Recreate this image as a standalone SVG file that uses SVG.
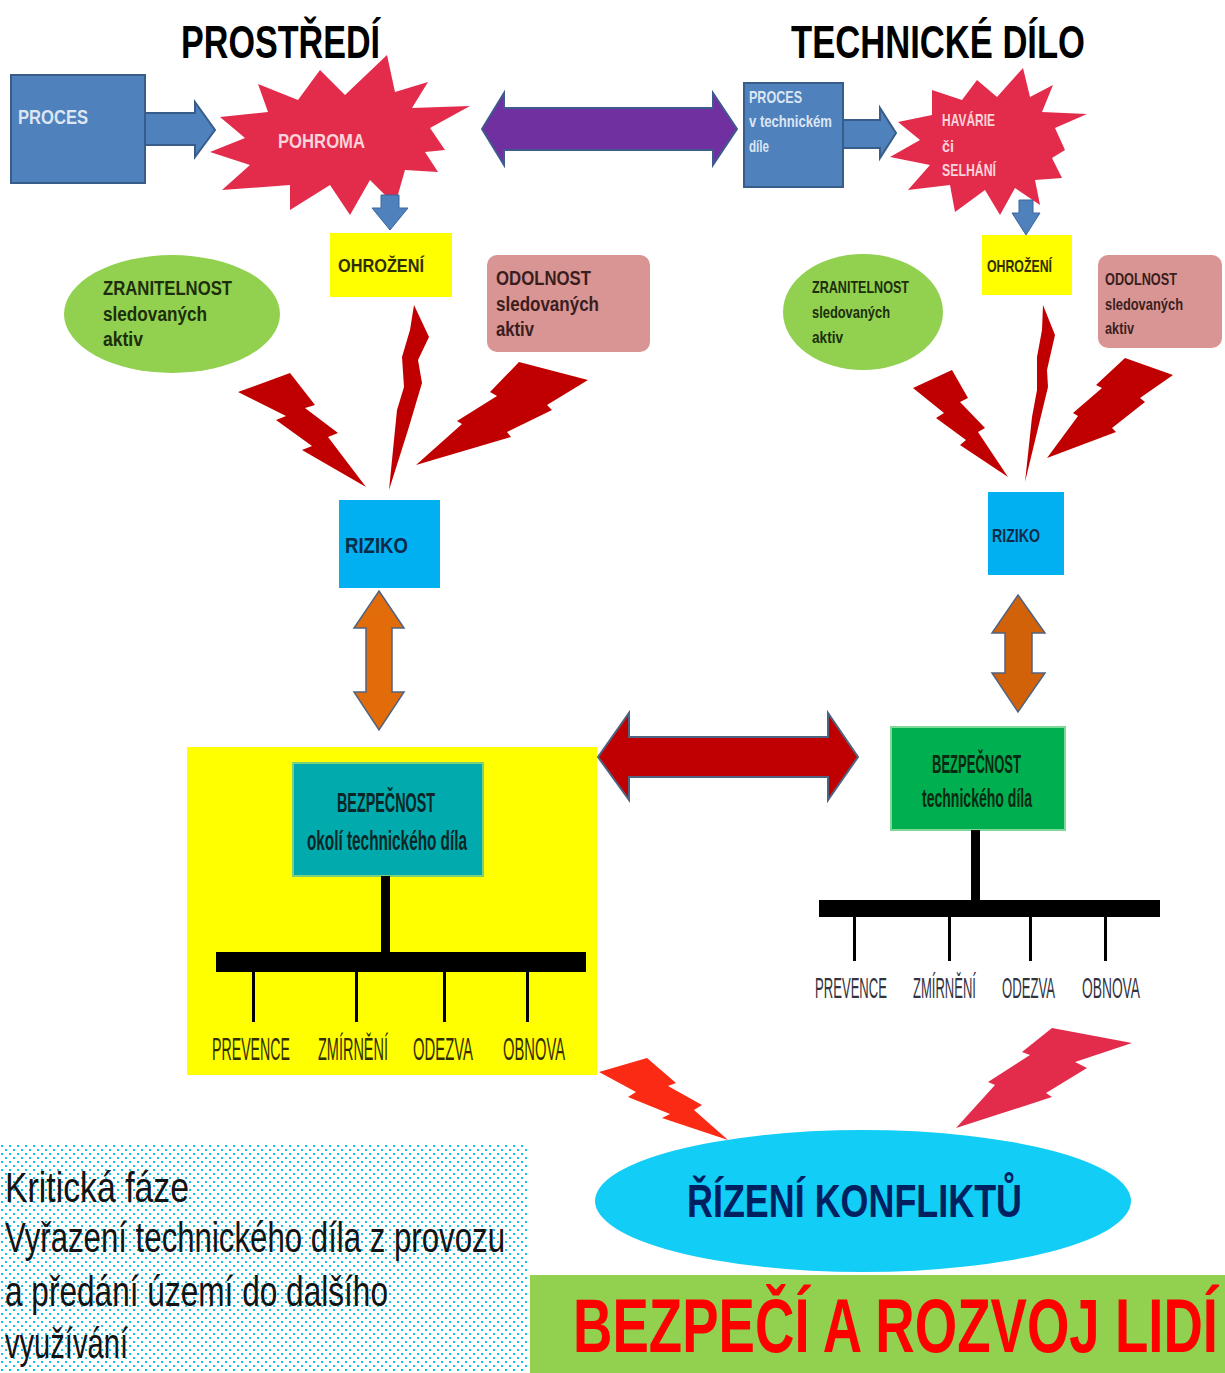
<svg xmlns="http://www.w3.org/2000/svg" width="1225" height="1373" viewBox="0 0 1225 1373">
<defs>
<style>
text{font-family:"Liberation Sans Narrow","Liberation Sans",Arial,sans-serif;}
.b{font-weight:bold;}
.title{font-size:46px;font-weight:bold;fill:#000;}
.proc{fill:#4f81bd;stroke:#385d8a;stroke-width:2;}
.ptxt{fill:#dce6f2;font-weight:bold;}
.burst{fill:#e32b4b;}
.btxt{fill:#fbd3da;font-weight:bold;}
.barr{fill:#4f81bd;stroke:#3a67a0;stroke-width:1;}
.ohr{fill:#ffff00;}
.otxt{fill:#2e2e00;font-weight:bold;}
.zran{fill:#92d050;}
.ztxt{fill:#1c2e0a;font-weight:bold;}
.odol{fill:#d99594;}
.dtxt{fill:#3a1e1e;font-weight:bold;}
.bolt{fill:#c00000;}
.riz{fill:#00b0f0;}
.rtxt{fill:#0c2b48;font-weight:bold;}
.orange{stroke:#4f6380;stroke-width:1.5;}
.tree{fill:#000;}
.lbl{fill:#332e00;}
.lbl2{fill:#33333f;}
</style>
<pattern id="dots" width="8" height="8" patternUnits="userSpaceOnUse">
<rect width="8" height="8" fill="#fff"/>
<rect x="1" y="1" width="2" height="2" fill="#11c4ee"/>
<rect x="5" y="5" width="2" height="2" fill="#11c4ee"/>
</pattern>
</defs>
<rect width="1225" height="1373" fill="#fff"/>

<g id="titles">
<text class="title" x="181" y="58" textLength="199" lengthAdjust="spacingAndGlyphs">PROSTŘEDÍ</text>
<text class="title" x="791" y="58" textLength="294" lengthAdjust="spacingAndGlyphs">TECHNICKÉ DÍLO</text>
</g>

<g id="proces-left">
<rect class="proc" x="11" y="75" width="134" height="108"/>
<text class="ptxt" x="18" y="124" font-size="20" textLength="70" lengthAdjust="spacingAndGlyphs">PROCES</text>
</g>

<g id="pohroma">
<polygon class="burst" points="387,55 395,92 428,82 412,108 470,106 430,128 445,150 425,152 438,172 405,170 395,205 370,180 350,215 330,185 290,210 290,185 222,190 250,165 210,152 245,138 220,117 268,112 258,84 298,100 320,70 345,95"/>
<text class="btxt" x="278" y="148" font-size="20" textLength="87" lengthAdjust="spacingAndGlyphs">POHROMA</text>
</g>

<g id="proces-right">
<rect class="proc" x="744" y="83" width="99" height="104"/>
<text class="ptxt" x="749" y="103" font-size="17" textLength="53" lengthAdjust="spacingAndGlyphs">PROCES</text>
<text class="ptxt" x="749" y="127" font-size="17" textLength="83" lengthAdjust="spacingAndGlyphs">v technickém</text>
<text class="ptxt" x="749" y="152" font-size="17" textLength="20" lengthAdjust="spacingAndGlyphs">díle</text>
</g>

<g id="havarie">
<polygon class="burst" points="1023,68 1030,97 1053,85 1042,112 1087,114 1055,128 1065,150 1052,158 1062,178 1035,180 1040,205 1015,188 1000,215 985,190 955,212 950,185 908,190 930,165 890,157 920,140 898,122 932,115 932,90 962,100 977,80 997,97"/>
<text class="btxt" x="942" y="126" font-size="17" textLength="53" lengthAdjust="spacingAndGlyphs">HAVÁRIE</text>
<text class="btxt" x="942" y="152" font-size="17" textLength="12" lengthAdjust="spacingAndGlyphs">či</text>
<text class="btxt" x="942" y="176" font-size="17" textLength="54" lengthAdjust="spacingAndGlyphs">SELHÁNÍ</text>
</g>

<g id="ohrozeni-left">
<rect class="ohr" x="330" y="233" width="122" height="64"/>
<text class="otxt" x="338" y="272" font-size="19" textLength="86" lengthAdjust="spacingAndGlyphs">OHROŽENÍ</text>
</g>
<g id="ohrozeni-right">
<rect class="ohr" x="982" y="235" width="90" height="60"/>
<text class="otxt" x="987" y="272" font-size="17" textLength="65" lengthAdjust="spacingAndGlyphs">OHROŽENÍ</text>
</g>

<g id="zranitelnost-left">
<ellipse class="zran" cx="172" cy="314" rx="108" ry="59"/>
<text class="ztxt" x="103" y="295" font-size="20" textLength="129" lengthAdjust="spacingAndGlyphs">ZRANITELNOST</text>
<text class="ztxt" x="103" y="321" font-size="20" textLength="104" lengthAdjust="spacingAndGlyphs">sledovaných</text>
<text class="ztxt" x="103" y="346" font-size="20" textLength="40" lengthAdjust="spacingAndGlyphs">aktiv</text>
</g>
<g id="zranitelnost-right">
<ellipse class="zran" cx="863" cy="312" rx="80" ry="58"/>
<text class="ztxt" x="812" y="293" font-size="17" textLength="97" lengthAdjust="spacingAndGlyphs">ZRANITELNOST</text>
<text class="ztxt" x="812" y="318" font-size="17" textLength="78" lengthAdjust="spacingAndGlyphs">sledovaných</text>
<text class="ztxt" x="812" y="343" font-size="17" textLength="31" lengthAdjust="spacingAndGlyphs">aktiv</text>
</g>

<g id="odolnost-left">
<rect class="odol" x="487" y="255" width="163" height="97" rx="10"/>
<text class="dtxt" x="496" y="285" font-size="20" textLength="95" lengthAdjust="spacingAndGlyphs">ODOLNOST</text>
<text class="dtxt" x="496" y="311" font-size="20" textLength="103" lengthAdjust="spacingAndGlyphs">sledovaných</text>
<text class="dtxt" x="496" y="336" font-size="20" textLength="38" lengthAdjust="spacingAndGlyphs">aktiv</text>
</g>
<g id="odolnost-right">
<rect class="odol" x="1098" y="255" width="124" height="93" rx="10"/>
<text class="dtxt" x="1105" y="285" font-size="17" textLength="72" lengthAdjust="spacingAndGlyphs">ODOLNOST</text>
<text class="dtxt" x="1105" y="310" font-size="17" textLength="78" lengthAdjust="spacingAndGlyphs">sledovaných</text>
<text class="dtxt" x="1105" y="334" font-size="17" textLength="29" lengthAdjust="spacingAndGlyphs">aktiv</text>
</g>

<g id="riziko-left">
<rect class="riz" x="339" y="500" width="101" height="88"/>
<text class="rtxt" x="345" y="553" font-size="22" textLength="63" lengthAdjust="spacingAndGlyphs">RIZIKO</text>
</g>
<g id="riziko-right">
<rect class="riz" x="988" y="492" width="76" height="83"/>
<text class="rtxt" x="992" y="542" font-size="18" textLength="48" lengthAdjust="spacingAndGlyphs">RIZIKO</text>
</g>

<g id="bezpecnost-okoli">
<rect x="187" y="747" width="410" height="328" fill="#ffff00"/>
<rect x="293" y="763" width="190" height="113" fill="#00aaad" stroke="#7bd07a" stroke-width="2"/>
<text class="b" x="337" y="812" font-size="27" fill="#0a2626" textLength="98" lengthAdjust="spacingAndGlyphs">BEZPEČNOST</text>
<text class="b" x="307" y="850" font-size="27" fill="#0a2626" textLength="160" lengthAdjust="spacingAndGlyphs">okolí technického díla</text>
<text class="lbl" x="212" y="1060" font-size="32" textLength="78" lengthAdjust="spacingAndGlyphs">PREVENCE</text>
<text class="lbl" x="318" y="1060" font-size="32" textLength="70" lengthAdjust="spacingAndGlyphs">ZMÍRNĚNÍ</text>
<text class="lbl" x="413" y="1060" font-size="32" textLength="60" lengthAdjust="spacingAndGlyphs">ODEZVA</text>
<text class="lbl" x="503" y="1060" font-size="32" textLength="62" lengthAdjust="spacingAndGlyphs">OBNOVA</text>
</g>

<g id="bezpecnost-dila">
<rect x="891" y="727" width="174" height="103" fill="#00b050" stroke="#7ed89a" stroke-width="2"/>
<text class="b" x="932" y="773" font-size="25" fill="#0a2a12" textLength="89" lengthAdjust="spacingAndGlyphs">BEZPEČNOST</text>
<text class="b" x="922" y="807" font-size="25" fill="#0a2a12" textLength="110" lengthAdjust="spacingAndGlyphs">technického díla</text>
<text class="lbl2" x="815" y="998" font-size="29" textLength="72" lengthAdjust="spacingAndGlyphs">PREVENCE</text>
<text class="lbl2" x="913" y="998" font-size="29" textLength="63" lengthAdjust="spacingAndGlyphs">ZMÍRNĚNÍ</text>
<text class="lbl2" x="1002" y="998" font-size="29" textLength="53" lengthAdjust="spacingAndGlyphs">ODEZVA</text>
<text class="lbl2" x="1082" y="998" font-size="29" textLength="58" lengthAdjust="spacingAndGlyphs">OBNOVA</text>
</g>

<g id="rizeni-konfliktu">
<ellipse cx="863" cy="1201" rx="268" ry="71" fill="#12cdf6"/>
<text class="b" x="687" y="1217" font-size="46" fill="#002060" textLength="335" lengthAdjust="spacingAndGlyphs">ŘÍZENÍ KONFLIKTŮ</text>
</g>

<g id="bezpeci">
<rect x="530" y="1275" width="695" height="98" fill="#92d050"/>
<text class="b" x="573" y="1352" font-size="76" fill="#ff0000" textLength="645" lengthAdjust="spacingAndGlyphs">BEZPEČÍ A ROZVOJ LIDÍ</text>
</g>

<g id="kriticka-faze">
<rect x="0" y="1144" width="528" height="229" fill="url(#dots)"/>
<text x="5" y="1202" font-size="42" fill="#141414" textLength="184" lengthAdjust="spacingAndGlyphs">Kritická fáze</text>
<text x="5" y="1252" font-size="42" fill="#141414" textLength="500" lengthAdjust="spacingAndGlyphs">Vyřazení technického díla z provozu</text>
<text x="5" y="1306" font-size="42" fill="#141414" textLength="383" lengthAdjust="spacingAndGlyphs">a předání území do dalšího</text>
<text x="5" y="1358" font-size="42" fill="#141414" textLength="123" lengthAdjust="spacingAndGlyphs">využívání</text>
</g>

<g id="connectors">
<!-- process arrows -->
<polygon class="proc" points="145,113 195,113 195,102 215,130 195,157 195,145 145,145"/>
<polygon class="proc" points="843,120 880,120 880,108 896,133 880,158 880,148 843,148"/>
<!-- small down arrows -->
<polygon class="barr" points="381,195 399,195 399,208 408,208 390,230 372,208 381,208"/>
<polygon class="barr" points="1019,200 1033,200 1033,213 1040,213 1026,235 1012,213 1019,213"/>
<!-- purple double arrow -->
<polygon points="482,129 504,93 504,108 713,108 713,93 737,129 713,165 713,150 504,150 504,165" fill="#7030a0" stroke="#3f5a8e" stroke-width="2"/>
<!-- orange double arrows -->
<polygon class="orange" fill="#e36c0a" points="379,591 404,628 392,628 392,692 404,692 379,730 354,692 366,692 366,628 354,628"/>
<polygon class="orange" fill="#d2620a" points="1018,595 1045,633 1032,633 1032,673 1045,673 1018,712 992,673 1005,673 1005,633 992,633"/>
<!-- red double arrow -->
<polygon points="598,757 629,713 629,737 828,737 828,713 858,757 828,800 828,777 629,777 629,800" fill="#c00000" stroke="#4f6380" stroke-width="2"/>
<!-- lightning bolts left group -->
<polygon class="bolt" points="238,392 290,373 315,405 305,408 338,433 328,437 366,487 302,450 312,446 276,420 286,416"/>
<polygon class="bolt" points="414,305 429,337 418,360 422,383 408,430 389,490 397,410 404,387 402,357 410,330"/>
<polygon class="bolt" points="519,362 588,380 547,405 552,410 507,432 511,437 416,465 462,424 457,421 497,396 490,392"/>
<!-- lightning bolts right group -->
<polygon class="bolt" points="913,388 952,370 968,398 960,402 985,428 978,432 1008,477 960,445 966,440 936,418 944,413"/>
<polygon class="bolt" points="1043,305 1055,335 1047,370 1048,387 1025,482 1032,417 1037,390 1037,357 1042,330"/>
<polygon class="bolt" points="1125,358 1173,375 1140,398 1145,402 1112,428 1116,432 1047,458 1078,416 1073,413 1102,388 1096,385"/>
<!-- bottom bolts -->
<polygon fill="#fb2a14" points="599,1072 647,1058 676,1083 668,1086 702,1105 694,1110 728,1140 662,1118 670,1114 628,1097 636,1092"/>
<polygon fill="#e32b4b" points="1052,1028 1132,1043 1075,1062 1087,1068 1046,1093 1052,1097 956,1128 995,1085 988,1082 1030,1055 1022,1052"/>
<!-- tree left -->
<rect class="tree" x="381" y="876" width="9" height="78"/>
<rect class="tree" x="216" y="952" width="370" height="20"/>
<rect class="tree" x="252" y="972" width="3" height="50"/>
<rect class="tree" x="355" y="972" width="3" height="50"/>
<rect class="tree" x="443" y="972" width="3" height="50"/>
<rect class="tree" x="526" y="972" width="3" height="50"/>
<!-- tree right -->
<rect class="tree" x="971" y="830" width="9" height="71"/>
<rect class="tree" x="819" y="900" width="341" height="17"/>
<rect class="tree" x="853" y="917" width="3" height="44"/>
<rect class="tree" x="948" y="917" width="3" height="44"/>
<rect class="tree" x="1029" y="917" width="3" height="44"/>
<rect class="tree" x="1104" y="917" width="3" height="44"/>
</g>
</svg>
